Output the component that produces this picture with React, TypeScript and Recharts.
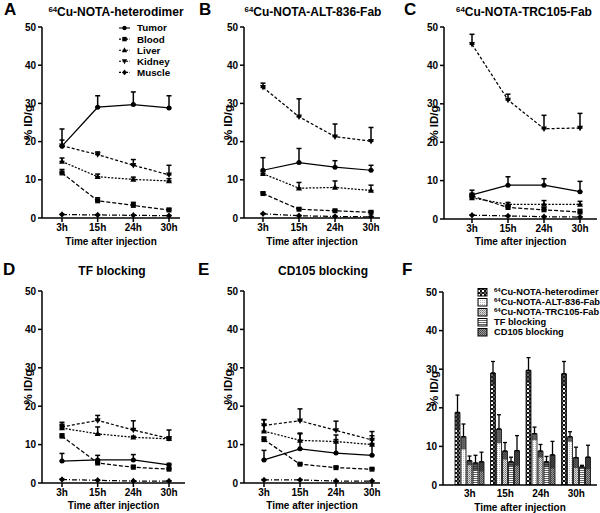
import React from 'react'
import { LineChart, Line, XAxis, YAxis, ErrorBar, BarChart, Bar } from 'recharts'

const TIMES = ['3h', '15h', '24h', '30h']
const ORGANS = ['Tumor', 'Blood', 'Liver', 'Kidney', 'Muscle']
const Y_TICKS = [0, 10, 20, 30, 40, 50]

// %ID/g — rows follow ORGANS, columns follow TIMES. SD is the upper error bar.
const HETERODIMER_MEAN = [
  [18.8, 29.0, 29.7, 28.8],
  [11.8, 4.5, 3.3, 2.1],
  [14.8, 10.8, 10.1, 9.7],
  [18.9, 16.6, 13.8, 11.3],
  [0.9, 0.8, 0.7, 0.6],
]
const HETERODIMER_SD = [
  [4.5, 3.0, 3.3, 3.2],
  [0.9, 0.8, 0.8, 0.4],
  [0.9, 0.7, 0.6, 0.6],
  [1.5, 0.7, 1.5, 2.5],
  [0.1, 0.1, 0.1, 0.1],
]

const ALT836_MEAN = [
  [12.5, 14.5, 13.3, 12.5],
  [6.4, 2.3, 1.9, 1.5],
  [11.6, 7.8, 8.0, 7.2],
  [34.2, 26.5, 21.3, 20.1],
  [1.1, 0.6, 0.4, 0.3],
]
const ALT836_SD = [
  [3.3, 3.7, 1.7, 1.3],
  [0.4, 0.3, 0.2, 0.3],
  [0.5, 1.5, 1.7, 1.4],
  [1.1, 4.7, 3.3, 3.6],
  [0.1, 0.1, 0.1, 0.1],
]

const TRC105_MEAN = [
  [6.3, 8.8, 8.8, 7.1],
  [6.0, 3.0, 2.4, 1.8],
  [5.5, 3.8, 3.8, 3.8],
  [45.5, 31.0, 23.5, 23.7],
  [1.0, 0.8, 0.6, 0.5],
]
const TRC105_SD = [
  [1.2, 2.2, 1.7, 2.7],
  [0.7, 0.5, 0.6, 0.7],
  [0.5, 0.5, 1.0, 0.8],
  [2.6, 1.5, 3.5, 3.8],
  [0.1, 0.1, 0.1, 0.1],
]

const TF_BLOCK_MEAN = [
  [5.7, 6.0, 6.0, 4.7],
  [12.2, 5.2, 4.1, 3.6],
  [14.3, 12.8, 11.9, 11.5],
  [14.6, 16.3, 13.8, 11.6],
  [0.9, 0.7, 0.5, 0.5],
]
const TF_BLOCK_SD = [
  [2.0, 1.2, 1.4, 0.4],
  [0.6, 0.4, 0.5, 0.3],
  [1.0, 1.8, 0.3, 0.5],
  [1.2, 1.3, 2.4, 2.2],
  [0.1, 0.1, 0.1, 0.1],
]

const CD105_BLOCK_MEAN = [
  [6.0, 8.9, 7.8, 7.2],
  [11.3, 4.9, 4.0, 3.6],
  [13.5, 11.1, 10.8, 10.0],
  [15.0, 16.2, 13.7, 11.2],
  [0.8, 0.8, 0.5, 0.5],
]
const CD105_BLOCK_SD = [
  [2.5, 3.9, 3.5, 3.1],
  [0.7, 0.3, 0.3, 0.3],
  [3.0, 1.9, 1.7, 2.3],
  [1.5, 3.1, 2.4, 2.2],
  [0.1, 0.1, 0.1, 0.1],
]

const GROUP_KEYS = ['het', 'alt', 'trc', 'tf', 'cd']
const GROUP_NAMES = ['Cu-NOTA-heterodimer', 'Cu-NOTA-ALT-836-Fab', 'Cu-NOTA-TRC105-Fab', 'TF blocking', 'CD105 blocking']
const GROUP_ISOTOPE = [true, true, true, false, false]

const FONT = '"Liberation Sans", Arial, sans-serif'
const SHAPES = ['circle', 'square', 'triangle', 'triangleDown', 'diamond']
const DASHES = ['', '4 2', '2 1.5', '3 2', '5 2 1 2']
const PATTERNS = ['pat-het', 'pat-alt', 'pat-trc', 'pat-tf', 'pat-cd']

const PANEL_A = { left: 0, top: 0, width: 195, height: 250, axisX: 42, plotTop: 27, plotBottom: 218, plotRight: 180, padL: 20, padR: 11, yLabel: 21, xLabel: 5 }
const PANEL_B = { left: 195, top: 0, width: 200, height: 250, axisX: 244, plotTop: 27, plotBottom: 218, plotRight: 380, padL: 19, padR: 9, yLabel: 26, xLabel: 5 }
const PANEL_C = { left: 395, top: 0, width: 205, height: 250, axisX: 444, plotTop: 27, plotBottom: 219, plotRight: 597, padL: 28, padR: 17, yLabel: 32, xLabel: 5 }
const PANEL_D = { left: 0, top: 258, width: 195, height: 255, axisX: 42, plotTop: 291, plotBottom: 483, plotRight: 185, padL: 20, padR: 16, yLabel: 21, xLabel: 4.4 }
const PANEL_E = { left: 195, top: 258, width: 200, height: 255, axisX: 244, plotTop: 291, plotBottom: 483, plotRight: 380, padL: 20, padR: 8, yLabel: 26, xLabel: 4.4 }
const PANEL_F = { left: 395, top: 258, width: 205, height: 255, axisX: 443, plotTop: 292, plotBottom: 485, plotRight: 597, padL: 9, padR: 3, yLabel: 32, xLabel: 2.5 }

const tickStyle = { fontSize: 10, fontWeight: 'bold', fill: '#000', fontFamily: FONT }
const yLabelStyle = { ...tickStyle, fontSize: 11.5, textAnchor: 'middle' }

const marker = (shape: string, cx: number, cy: number, s = 2.5) => {
  switch (shape) {
    case 'circle':
      return <circle cx={cx} cy={cy} r={s} fill="#000" />
    case 'square':
      return <rect x={cx - s} y={cy - s} width={2 * s} height={2 * s} fill="#000" />
    case 'triangle':
      return <path d={`M${cx},${cy - s * 1.3}L${cx + s * 1.2},${cy + s * 0.9}L${cx - s * 1.2},${cy + s * 0.9}Z`} fill="#000" />
    case 'triangleDown':
      return <path d={`M${cx},${cy + s * 1.3}L${cx + s * 1.2},${cy - s * 0.9}L${cx - s * 1.2},${cy - s * 0.9}Z`} fill="#000" />
    default:
      return <path d={`M${cx},${cy - s * 1.3}L${cx + s * 1.1},${cy}L${cx},${cy + s * 1.3}L${cx - s * 1.1},${cy}Z`} fill="#000" />
  }
}

const Iso = () => <span style={{ fontSize: '0.65em', verticalAlign: '0.5em' }}>64</span>

const Title = ({ x, y, children }: { x: number; y: number; children: React.ReactNode }) => (
  <div style={{ position: 'absolute', left: x - 100, top: y, width: 200, textAlign: 'center', fontSize: 12, fontWeight: 'bold', lineHeight: '14px', whiteSpace: 'nowrap' }}>
    {children}
  </div>
)

const Letter = ({ x, y, children }: { x: number; y: number; children: React.ReactNode }) => (
  <div style={{ position: 'absolute', left: x, top: y, fontSize: 17, fontWeight: 'bold', lineHeight: '18px' }}>{children}</div>
)

function LinePanel({ layout, mean, sd }: { layout: typeof PANEL_A; mean: number[][]; sd: number[][] }) {
  const data = TIMES.map((t, i) => {
    const row: Record<string, any> = { time: t }
    ORGANS.forEach((o, k) => {
      row[o] = mean[k][i]
      row[o + 'Err'] = [0, sd[k][i]]
    })
    return row
  })
  const { left, top, width, height, axisX, plotTop, plotBottom, plotRight, padL, padR, yLabel, xLabel } = layout
  return (
    <div style={{ position: 'absolute', left, top }}>
      <LineChart
        width={width}
        height={height}
        data={data}
        margin={{ top: plotTop - top, right: left + width - plotRight, left: 0, bottom: 0 }}
      >
        <XAxis
          dataKey="time"
          scale="point"
          padding={{ left: padL, right: padR }}
          height={top + height - plotBottom}
          stroke="#000"
          strokeWidth={1.5}
          tickSize={4}
          tickMargin={2}
          tick={tickStyle}
          label={{ value: 'Time after injection', position: 'insideBottom', offset: xLabel, style: { ...tickStyle } }}
        />
        <YAxis
          width={axisX - left}
          domain={[0, 50]}
          ticks={Y_TICKS}
          interval={0}
          allowDataOverflow
          stroke="#000"
          strokeWidth={1.5}
          tickSize={4}
          tickMargin={2}
          tick={tickStyle}
          label={{ value: '% ID/g', angle: -90, position: 'insideLeft', offset: yLabel, dx: 7, style: yLabelStyle }}
        />
        {ORGANS.map((o, k) => (
          <Line
            key={o}
            dataKey={o}
            stroke="#000"
            strokeWidth={1.25}
            strokeDasharray={DASHES[k]}
            isAnimationActive={false}
            activeDot={false}
            dot={(p: any) => <g key={`${o}-${p.index}`}>{marker(SHAPES[k], p.cx, p.cy)}</g>}
          >
            <ErrorBar dataKey={o + 'Err'} width={2.5} stroke="#000" strokeWidth={1.5} direction="y" />
          </Line>
        ))}
      </LineChart>
    </div>
  )
}

function OrganLegend() {
  return (
    <svg style={{ position: 'absolute', left: 115, top: 22 }} width={70} height={58}>
      {ORGANS.map((o, k) => {
        const y = 6 + k * 11.1
        return (
          <g key={o}>
            <line x1={4} x2={15} y1={y} y2={y} stroke="#000" strokeWidth={1.1} strokeDasharray={k === 0 ? '' : '2 1.5'} />
            {marker(SHAPES[k], 9.5, y, 2.2)}
            <text x={22} y={y + 3.4} fontSize={9.8} fontWeight="bold" fontFamily={FONT}>{o}</text>
          </g>
        )
      })}
    </svg>
  )
}

function PatternDefs() {
  return (
    <svg width={0} height={0} style={{ position: 'absolute' }}>
      <defs>
        <pattern id="pat-het" width={4} height={4} patternUnits="userSpaceOnUse">
          <rect width={4} height={4} fill="#111" />
          <rect x={0} y={0} width={2} height={2} fill="#fff" />
          <rect x={2} y={2} width={2} height={2} fill="#222" />
          <rect x={2.5} y={2.5} width={1} height={1} fill="#fff" />
        </pattern>
        <pattern id="pat-alt" width={2} height={2} patternUnits="userSpaceOnUse">
          <rect width={2} height={2} fill="#fff" />
          <rect x={0} y={0} width={1} height={1} fill="#bbb" />
        </pattern>
        <pattern id="pat-trc" width={2} height={2} patternUnits="userSpaceOnUse">
          <rect width={2} height={2} fill="#ddd" />
          <rect x={0} y={0} width={1} height={1} fill="#777" />
          <rect x={1} y={1} width={1} height={1} fill="#999" />
        </pattern>
        <pattern id="pat-tf" width={2} height={2} patternUnits="userSpaceOnUse">
          <rect width={2} height={2} fill="#fff" />
          <rect x={0} y={0} width={2} height={1} fill="#666" />
        </pattern>
        <pattern id="pat-cd" width={2} height={2} patternUnits="userSpaceOnUse">
          <rect width={2} height={2} fill="#999" />
          <rect x={0} y={0} width={1} height={1} fill="#444" />
          <rect x={1} y={1} width={1} height={1} fill="#555" />
        </pattern>
      </defs>
    </svg>
  )
}

const TUMOR_MEANS = [HETERODIMER_MEAN[0], ALT836_MEAN[0], TRC105_MEAN[0], TF_BLOCK_MEAN[0], CD105_BLOCK_MEAN[0]]
const TUMOR_SDS = [HETERODIMER_SD[0], ALT836_SD[0], TRC105_SD[0], TF_BLOCK_SD[0], CD105_BLOCK_SD[0]]

function BarPanel() {
  const data = TIMES.map((t, i) => {
    const row: Record<string, any> = { time: t }
    GROUP_KEYS.forEach((g, k) => {
      row[g] = TUMOR_MEANS[k][i]
      row[g + 'Err'] = [0, TUMOR_SDS[k][i]]
      row[g + 'Band'] = [TUMOR_SDS[k][i], 0]
    })
    return row
  })
  const { left, top, width, height, axisX, plotTop, plotBottom, plotRight, padL, padR, yLabel, xLabel } = PANEL_F
  return (
    <div style={{ position: 'absolute', left, top }}>
      <BarChart
        width={width}
        height={height}
        data={data}
        barCategoryGap={3}
        barGap={1}
        margin={{ top: plotTop - top, right: left + width - plotRight, left: 0, bottom: 0 }}
      >
        <XAxis
          dataKey="time"
          padding={{ left: padL, right: padR }}
          height={top + height - plotBottom}
          stroke="#000"
          strokeWidth={1.5}
          tickLine={false}
          tickSize={3}
          tickMargin={2}
          tick={tickStyle}
          label={{ value: 'Time after injection', position: 'insideBottom', offset: xLabel, style: { ...tickStyle } }}
        />
        <YAxis
          width={axisX - left}
          domain={[0, 50]}
          ticks={Y_TICKS}
          interval={0}
          allowDataOverflow
          stroke="#000"
          strokeWidth={1.5}
          tickSize={4}
          tickMargin={2}
          tick={tickStyle}
          label={{ value: '% ID/g', angle: -90, position: 'insideLeft', offset: yLabel, dx: 7, style: yLabelStyle }}
        />
        {GROUP_KEYS.map((g, k) => (
          <Bar key={g} dataKey={g} fill={`url(#${PATTERNS[k]})`} stroke="#000" strokeWidth={0.8} isAnimationActive={false}>
            <ErrorBar dataKey={g + 'Band'} width={0} stroke="#222" strokeOpacity={0.7} strokeWidth={5} direction="y" />
            <ErrorBar dataKey={g + 'Err'} width={2} stroke="#000" strokeWidth={1.3} direction="y" />
          </Bar>
        ))}
      </BarChart>
    </div>
  )
}

function GroupLegend() {
  return (
    <svg style={{ position: 'absolute', left: 474, top: 286 }} width={126} height={54}>
      {GROUP_KEYS.map((g, k) => {
        const y = 6 + k * 10
        return (
          <g key={g}>
            <rect x={4} y={y - 3.5} width={9} height={7.5} fill={`url(#${PATTERNS[k]})`} stroke="#000" strokeWidth={1} />
            <text x={20} y={y + 3.3} fontSize={9.3} fontWeight="bold" fontFamily={FONT}>
              {GROUP_ISOTOPE[k] && <tspan fontSize={6} dy={-3.3}>64</tspan>}
              <tspan dy={GROUP_ISOTOPE[k] ? 3.3 : 0}>{GROUP_NAMES[k]}</tspan>
            </text>
          </g>
        )
      })}
    </svg>
  )
}

export default function App() {
  return (
    <div style={{ position: 'absolute', left: 0, top: 0, width: 600, height: 513, background: '#fff', fontFamily: FONT, color: '#000', overflow: 'hidden' }}>
      <PatternDefs />
      <LinePanel layout={PANEL_A} mean={HETERODIMER_MEAN} sd={HETERODIMER_SD} />
      <LinePanel layout={PANEL_B} mean={ALT836_MEAN} sd={ALT836_SD} />
      <LinePanel layout={PANEL_C} mean={TRC105_MEAN} sd={TRC105_SD} />
      <LinePanel layout={PANEL_D} mean={TF_BLOCK_MEAN} sd={TF_BLOCK_SD} />
      <LinePanel layout={PANEL_E} mean={CD105_BLOCK_MEAN} sd={CD105_BLOCK_SD} />
      <BarPanel />
      <OrganLegend />
      <GroupLegend />

      <Letter x={4} y={1}>A</Letter>
      <Letter x={199} y={1}>B</Letter>
      <Letter x={404} y={1}>C</Letter>
      <Letter x={3} y={261}>D</Letter>
      <Letter x={198} y={261}>E</Letter>
      <Letter x={402} y={261}>F</Letter>

      <Title x={116} y={3}><Iso />{GROUP_NAMES[0]}</Title>
      <Title x={313} y={3}><Iso />{GROUP_NAMES[1]}</Title>
      <Title x={524} y={3}><Iso />{GROUP_NAMES[2]}</Title>
      <Title x={112} y={264}>{GROUP_NAMES[3]}</Title>
      <Title x={323} y={264}>{GROUP_NAMES[4]}</Title>
    </div>
  )
}
